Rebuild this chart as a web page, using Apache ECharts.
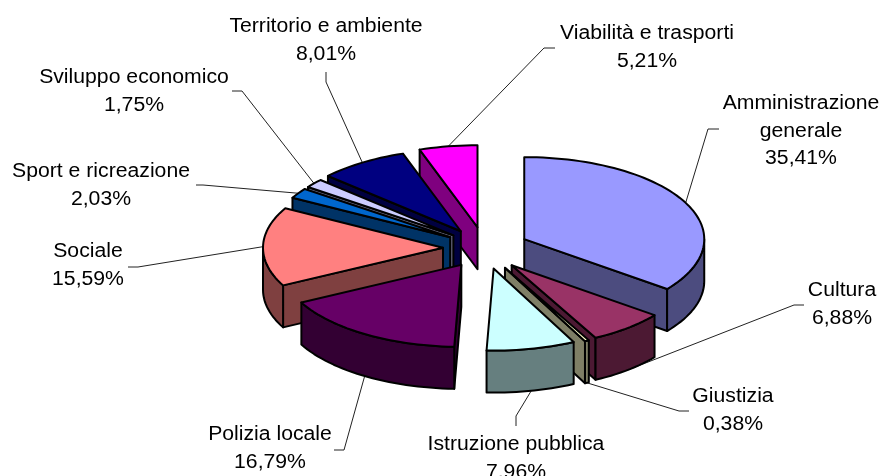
<!DOCTYPE html>
<html>
<head>
<meta charset="utf-8">
<script src="https://cdn.jsdelivr.net/npm/echarts@6/dist/echarts.min.js"></script>
<style>
html, body { margin: 0; padding: 0; background: #fff; }
#chart { width: 881px; height: 476px; }
</style>
</head>
<body>
<div id="chart"></div>
<script>
// dati
var categories = ['Amministrazione\ngenerale', 'Cultura', 'Giustizia', 'Istruzione pubblica', 'Polizia locale', 'Sociale', 'Sport e ricreazione', 'Sviluppo economico', 'Territorio e ambiente', 'Viabilità e trasporti'];
var shares = [35.41, 6.88, 0.38, 7.96, 16.79, 15.59, 2.03, 1.75, 8.01, 5.21];

// colori
var topColors = ['#9999ff', '#993366', '#ffffcc', '#ccffff', '#660066', '#ff8080', '#0066cc', '#ccccff', '#000080', '#ff00ff'];
var sideColors = ['#4c4c7f', '#4c1933', '#7f7f66', '#667f7f', '#330033', '#7f4040', '#003366', '#66667f', '#000040', '#7f007f'];

// layout della torta
var centerX = 486, centerY = 247;
var radiusX = 180, radiusY = 82, depth = 42;
var explodeX = 46, explodeY = 20;
// correzione dello spostamento di ogni fetta
var sliceNudge = [[-3, 1], [-4, 3], [-2, 3], [-2, 2], [0, 1], [3, 1], [3, 1], [3, 1], [0, 1], [-1, 0]];
// centro della prima riga di ogni etichetta e tratti iniziali delle linee
var labelPos = [[801, 102], [842, 289], [733, 395], [516, 443], [270, 433], [88, 250], [101, 170], [134, 76], [326, 25], [647, 32]];
var leaderTicks = [[[719, 129], [708, 129]], [[804, 305], [794, 305]], [[689, 411], [679, 411]], [[516, 426], [516, 416]], [[334, 450], [344, 450]], [[128, 267], [138, 267]], [[196, 185], [203, 185]], [[232, 91], [242, 91]], [[326, 72], [326, 82]], [[555, 48], [544, 48]]];

var total = shares.reduce(function (a, b) { return a + b; }, 0);
var startAngles = [];
shares.reduce(function (acc, v, i) {
	startAngles[i] = acc;
	return acc + v / total * 360;
}, 0);

function rad(deg) {
	return deg * Math.PI / 180;
}
// punto sull'ellisse, angolo in senso orario dalle ore 12
function onRim(o, deg, drop) {
	return [o[0] + radiusX * Math.sin(rad(deg)), o[1] - radiusY * Math.cos(rad(deg)) + (drop || 0)];
}
function arcPoints(o, from, to, drop) {
	var pts = [];
	var n = Math.max(2, Math.ceil((to - from) / 2));
	for (var k = 0; k <= n; k++) {
		pts.push(onRim(o, from + (to - from) * k / n, drop));
	}
	return pts;
}
function down(p) {
	return [p[0], p[1] + depth];
}
function sliceOrigin(i, mid) {
	return [
		centerX + explodeX * Math.sin(rad(mid)) + sliceNudge[i][0],
		centerY - explodeY * Math.cos(rad(mid)) + sliceNudge[i][1]
	];
}
function facePoly(points, fill) {
	return {
		type: 'polygon',
		shape: { points: points },
		style: { fill: fill, stroke: '#000', lineWidth: 2, lineJoin: 'round' }
	};
}

function renderSlice(params, api) {
	var i = api.value(0);
	var sweep = api.value(1) / total * 360;
	var a0 = startAngles[i], a1 = a0 + sweep;
	var origin = sliceOrigin(i, a0 + sweep / 2);
	var children = [];
	var s0 = onRim(origin, a0), s1 = onRim(origin, a1);
	// pareti interne visibili
	if (Math.sin(rad(a0)) < -0.001) {
		children.push(facePoly([origin, s0, down(s0), down(origin)], sideColors[i]));
	}
	if (Math.sin(rad(a1)) > 0.001) {
		children.push(facePoly([origin, s1, down(s1), down(origin)], sideColors[i]));
	}
	// bordo esterno
	var r0 = Math.max(a0, 90), r1 = Math.min(a1, 270);
	if (r1 > r0) {
		var upper = arcPoints(origin, r0, r1, 0);
		var lower = arcPoints(origin, r0, r1, depth).reverse();
		children.push(facePoly(upper.concat(lower), sideColors[i]));
	}
	// faccia superiore
	children.push(facePoly([origin].concat(arcPoints(origin, a0, a1, 0)), topColors[i]));
	return { type: 'group', children: children };
}

function renderLabel(params, api) {
	var i = api.value(0);
	var sweep = api.value(1) / total * 360;
	var mid = startAngles[i] + sweep / 2;
	var origin = sliceOrigin(i, mid);
	var front = Math.cos(rad(mid)) < 0;
	var end = onRim(origin, mid, front ? depth : 0);
	var text = categories[i] + '\n' + api.value(1).toFixed(2).replace('.', ',') + '%';
	return {
		type: 'group',
		children: [{
			type: 'polyline',
			shape: { points: leaderTicks[i].concat([end]) },
			style: { fill: null, stroke: '#222', lineWidth: 1 }
		}, {
			type: 'text',
			x: labelPos[i][0],
			y: labelPos[i][1] - 12.5,
			scaleX: 1.06,
			style: {
				text: text,
				x: 0,
				y: 0,
				align: 'center',
				verticalAlign: 'top',
				lineHeight: 27.7,
				font: '20px "Liberation Sans", Arial, sans-serif',
				fill: '#000'
			}
		}]
	};
}

var seriesData = shares.map(function (v, i) {
	return [i, v];
});
// ordine di disegno: fette in fondo, poi quelle davanti
var drawOrder = [9, 8, 7, 6, 5, 4, 0, 1, 2, 3];

var chart = echarts.init(document.getElementById('chart'));
chart.setOption({
	backgroundColor: '#fff',
	animation: false,
	series: [{
		type: 'custom',
		coordinateSystem: 'none',
		z: 1,
		silent: true,
		renderItem: renderLabel,
		data: seriesData
	}, {
		type: 'custom',
		coordinateSystem: 'none',
		z: 2,
		silent: true,
		renderItem: renderSlice,
		data: drawOrder.map(function (i) { return seriesData[i]; })
	}]
});
</script>
</body>
</html>
